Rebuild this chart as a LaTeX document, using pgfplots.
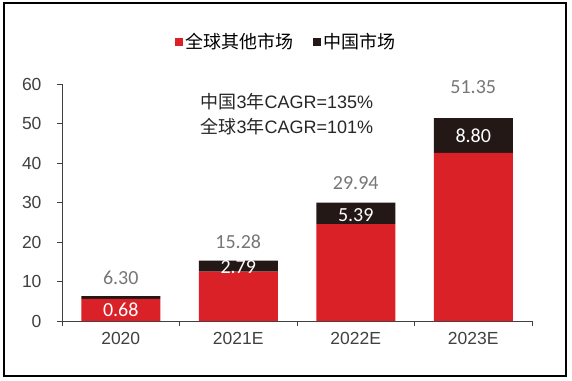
\documentclass[border=0pt]{standalone}
\usepackage{pgfplots}
\pgfplotsset{compat=1.18}
\usepackage{fontspec}
\setmainfont{Liberation Sans}
\newfontfamily\cjk{Noto Sans CJK SC}
\newfontfamily\lab{Carlito}
\definecolor{barred}{RGB}{217,33,39}
\definecolor{bardark}{RGB}{35,24,21}
\definecolor{axgray}{RGB}{64,64,64}
\definecolor{labgray}{RGB}{118,118,118}
\begin{document}
\begin{tikzpicture}[x=1bp,y=1bp]
\useasboundingbox (0,0) rectangle (572,380);
\draw[line width=1.3bp,black] (4,4) rectangle (566,377);
\begin{axis}[
  at={(62bp,59bp)}, anchor=south west,
  scale only axis, width=470bp, height=237bp,
  ybar stacked, bar width=79bp,
  xmin=-0.5, xmax=3.5, ymin=0, ymax=60,
  axis lines*=left,
  axis line style={axgray, line width=0.9bp},
  clip=false,
  xtick={-0.5,0.5,1.5,2.5,3.5}, xticklabels={},
  extra x ticks={0,1,2,3},
  extra x tick labels={2020,2021E,2022E,2023E},
  extra x tick style={major tick length=0pt},
  ytick={0,10,20,30,40,50,60},
  tick align=outside, major tick length=5bp,
  tick style={axgray, line width=0.9bp},
  /pgf/number format/assume math mode=true,
  ticklabel style={font=\fontsize{17.5bp}{20bp}\selectfont, text=axgray},
  yticklabel style={xshift=-12bp},
  xticklabel style={yshift=-8bp},
  legend style={at={(0.477,1.177)}, anchor=center, draw=none, fill=none,
    legend columns=2, font=\cjk\fontsize{18bp}{20bp}\selectfont, text=black,
    /tikz/every even column/.append style={column sep=18bp},
    inner sep=0pt},
  legend cell align=left,
]
\addplot[fill=barred, draw=none, legend image code/.code={\fill[barred] (0bp,-4bp) rectangle (8bp,4bp);}]
  coordinates {(0,5.62) (1,12.49) (2,24.55) (3,42.55)};
\addlegendentry{全球其他市场}
\addplot[fill=bardark, draw=none, legend image code/.code={\fill[bardark] (0bp,-4bp) rectangle (8bp,4bp);}]
  coordinates {(0,0.68) (1,2.79) (2,5.39) (3,8.80)};
\addlegendentry{中国市场}
\coordinate (t0) at (axis cs:0,10.9);
\coordinate (t1) at (axis cs:1,20.0);
\coordinate (t2) at (axis cs:2,34.9);
\coordinate (t3) at (axis cs:3,59.2);
\coordinate (c0) at (axis cs:0,2.8);
\coordinate (c1) at (axis cs:1,13.7);
\coordinate (c2) at (axis cs:2,26.8);
\coordinate (c3) at (axis cs:3,46.8);
\coordinate (g1) at (axis cs:0.649,55.6);
\coordinate (g2) at (axis cs:0.649,49.3);
\end{axis}
\tikzset{lab/.style={font=\lab\fontsize{20bp}{22bp}\selectfont}}
\node[lab, text=labgray] at (t0) {6.30};
\node[lab, text=labgray] at (t1) {15.28};
\node[lab, text=labgray] at (t2) {29.94};
\node[lab, text=labgray] at (t3) {51.35};
\node[lab, text=white] at (c0) {0.68};
\node[lab, text=white] at (c1) {2.79};
\node[lab, text=white] at (c2) {5.39};
\node[lab, text=white] at (c3) {8.80};
\node[anchor=west, font=\fontsize{18bp}{20bp}\selectfont, text=black!85] at (g1) {{\cjk 中国}3{\cjk 年}CAGR=135\%};
\node[anchor=west, font=\fontsize{18bp}{20bp}\selectfont, text=black!85] at (g2) {{\cjk 全球}3{\cjk 年}CAGR=101\%};
\end{tikzpicture}
\end{document}
